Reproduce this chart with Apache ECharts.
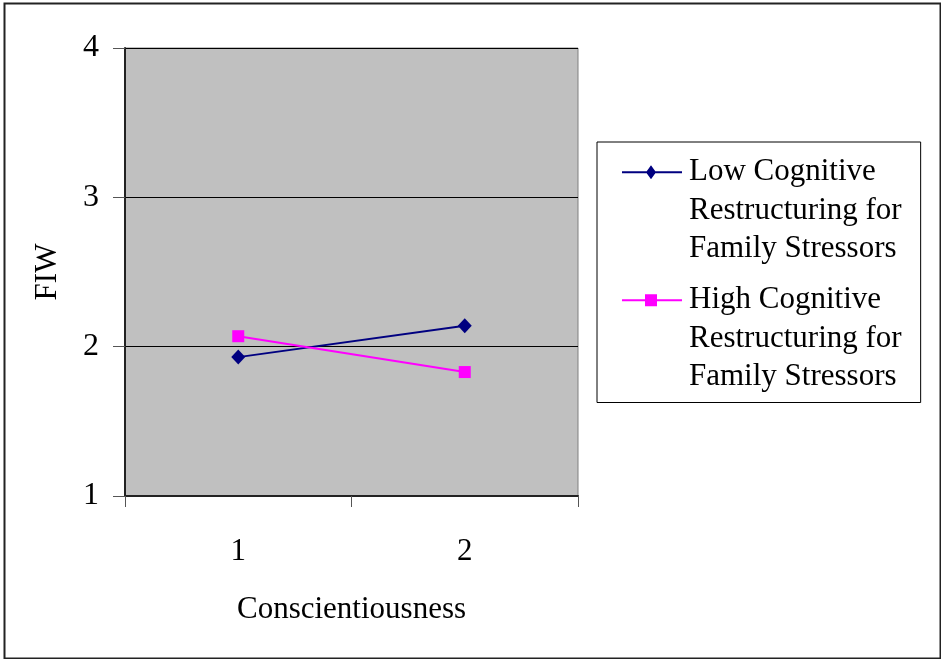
<!DOCTYPE html>
<html>
<head>
<meta charset="utf-8">
<script src="https://cdn.jsdelivr.net/npm/echarts@6/dist/echarts.min.js"></script>
<style>
  html, body { margin: 0; padding: 0; background: #fff; }
  #chart { width: 941px; height: 659px; }
</style>
</head>
<body>
<div id="chart"></div>
<script>
// Interaction plot: FIW by conscientiousness level, split by cognitive restructuring
const categories = ['1', '2'];
const lowRestructuring = [1.93, 2.14];
const highRestructuring = [2.07, 1.83];
const seriesNames = [
  'Low Cognitive\nRestructuring for\nFamily Stressors',
  'High Cognitive\nRestructuring for\nFamily Stressors'
];
const yTicks = [1, 2, 3, 4];

const SERIF = '"Liberation Serif", "Times New Roman", serif';
const LH = 38.5; // legend line height

// Legend icons: a line with a marker sitting on the first text line of a 3-line block
const iconBox = 'M0 0 M60 ' + (LH * 3) + ' ';
const cy = LH / 2;
const lineBar = 'M0 ' + (cy - 1) + ' L60 ' + (cy - 1) + ' L60 ' + (cy + 1) + ' L0 ' + (cy + 1) + ' Z ';
const diamondIcon = 'path://' + iconBox + lineBar +
  'M29 ' + (cy - 7) + ' L34 ' + cy + ' L29 ' + (cy + 7) + ' L24 ' + cy + ' Z';
const squareIcon = 'path://' + iconBox + lineBar +
  'M23 ' + (cy - 6) + ' L35 ' + (cy - 6) + ' L35 ' + (cy + 6) + ' L23 ' + (cy + 6) + ' Z';

const chart = echarts.init(document.getElementById('chart'), null, { renderer: 'canvas' });

chart.setOption({
  animation: false,
  backgroundColor: '#ffffff',
  textStyle: { fontFamily: SERIF },
  graphic: [{
    type: 'rect',
    left: 2, top: 1,
    shape: { width: 936, height: 655 },
    style: { fill: 'none', stroke: '#222', lineWidth: 2 },
    z: 100
  }],
  grid: {
    left: 125, top: 48, right: 363, bottom: 163,
    show: true,
    backgroundColor: '#c0c0c0',
    borderColor: '#808080',
    borderWidth: 1
  },
  legend: {
    orient: 'vertical',
    left: 597, top: 142,
    padding: [11, 19, 6, 25],
    itemGap: 12.5,
    itemWidth: 60,
    itemHeight: LH * 3,
    itemStyle: { borderWidth: 0 },
    backgroundColor: '#ffffff',
    borderColor: '#000000',
    borderWidth: 1,
    borderRadius: 0,
    textStyle: {
      fontFamily: SERIF,
      fontSize: 31,
      lineHeight: LH,
      color: '#000',
      padding: [0, 0, 0, 2]
    },
    data: [
      { name: seriesNames[0], icon: diamondIcon },
      { name: seriesNames[1], icon: squareIcon }
    ]
  },
  xAxis: {
    type: 'category',
    data: categories,
    boundaryGap: true,
    name: 'Conscientiousness',
    nameLocation: 'middle',
    nameGap: 98,
    nameTextStyle: { fontFamily: SERIF, fontSize: 31, color: '#000' },
    axisLine: { show: true, lineStyle: { color: '#222', width: 2 } },
    axisTick: { show: true, inside: false, length: 11, lineStyle: { color: '#555', width: 1 } },
    axisLabel: { margin: 40, fontFamily: SERIF, fontSize: 31, color: '#000' },
    splitLine: { show: false }
  },
  yAxis: {
    type: 'value',
    min: 1, max: 4, interval: 1,
    name: 'FIW',
    nameLocation: 'middle',
    nameGap: 62,
    nameRotate: 90,
    nameTextStyle: { fontFamily: SERIF, fontSize: 31, color: '#000' },
    axisLine: { show: true, lineStyle: { color: '#222', width: 2 } },
    axisTick: { show: true, inside: false, length: 12, lineStyle: { color: '#555', width: 1 } },
    axisLabel: {
      margin: 26, fontFamily: SERIF, fontSize: 32, color: '#000',
      formatter: v => (yTicks.includes(v) ? String(v) : '')
    },
    splitLine: { show: true, lineStyle: { color: '#000', width: 1 } }
  },
  series: [
    {
      name: seriesNames[0],
      type: 'line',
      data: lowRestructuring,
      symbol: 'diamond',
      symbolSize: [14, 15],
      lineStyle: { color: '#000080', width: 2 },
      itemStyle: { color: '#000080' }
    },
    {
      name: seriesNames[1],
      type: 'line',
      data: highRestructuring,
      symbol: 'rect',
      symbolSize: 12,
      lineStyle: { color: '#ff00ff', width: 2 },
      itemStyle: { color: '#ff00ff' }
    }
  ]
});
</script>
</body>
</html>
